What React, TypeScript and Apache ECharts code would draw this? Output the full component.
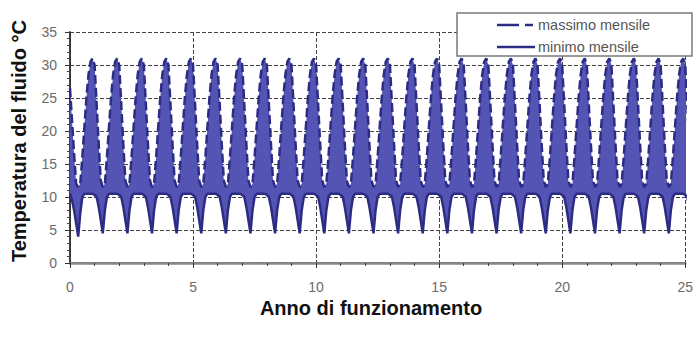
import React, { useEffect, useRef } from "react";
import * as echarts from "echarts";

// Monthly values (°C): first year, then the repeating yearly cycle
const maxFirstYear = [26.5, 21.5, 16.5, 12, 11.5, 12, 16, 20.5, 25, 28.5, 30.5, 31];
const minFirstYear = [10.5, 9.5, 8, 6, 4, 7.5, 10, 10.5, 10.5, 10.5, 10.5, 10.5];
const maxCycle = [30, 24, 18, 12.5, 11.5, 12, 16, 20.5, 25, 28.5, 30.5, 31];
const minCycle = [10.3, 10, 8.5, 6.5, 4.5, 8, 10, 10.5, 10.5, 10.5, 10.5, 10.5];
const yearsShown = 25;
const xTicks = [0, 5, 10, 15, 20, 25];
const yTicks = [0, 5, 10, 15, 20, 25, 30, 35];
const seriesNames = ["massimo mensile", "minimo mensile"];

function buildSeries(first: number[], cycle: number[]): [number, number][] {
  const out: [number, number][] = [];
  for (let y = 0; y < yearsShown; y++) {
    const arr = y === 0 ? first : cycle;
    arr.forEach((v, m) => out.push([y + m / 12, v]));
  }
  // tail beyond the axis end (clipped)
  cycle.slice(0, 3).forEach((v, m) => out.push([yearsShown + m / 12, v]));
  return out;
}

export default function App() {
  const ref = useRef<HTMLDivElement>(null);
  useEffect(() => {
    if (!ref.current) return;
    const chart = echarts.init(ref.current, undefined, { renderer: "svg" });
    const maxData = buildSeries(maxFirstYear, maxCycle);
    const minData = buildSeries(minFirstYear, minCycle);
    const bandData = maxData.map((p, i) => [p[0], p[1], minData[i][1]]);
    const font = "'Liberation Sans', Arial, sans-serif";
    const lineColor = "#2c2c84";
    const fillColor = "#5454b4";
    chart.setOption({
      animation: false,
      backgroundColor: "#ffffff",
      grid: { left: 70, top: 32, width: 618, height: 231, containLabel: false },
      xAxis: [
        {
          type: "value",
          min: 0,
          max: 25,
          interval: 5,
          axisLine: { show: true, lineStyle: { color: "#333", width: 1.5 } },
          axisTick: { show: true, length: 5, lineStyle: { color: "#333" } },
          minorTick: { show: true, splitNumber: 5, length: 3, lineStyle: { color: "#444" } },
          axisLabel: {
            margin: 17,
            fontFamily: font,
            fontSize: 14,
            color: "#6b6b6b",
            showMaxLabel: true,
            formatter: (v: number) => (xTicks.includes(v) ? String(v) : ""),
          },
          splitLine: { show: true, lineStyle: { color: "#444", type: "dashed", width: 1 } },
        },
        {
          type: "value",
          position: "top",
          min: 0,
          max: 25,
          axisLine: { show: true, lineStyle: { color: "#8a8a8a", width: 2.5 } },
          axisTick: { show: false },
          axisLabel: { show: false },
          splitLine: { show: false },
        },
      ],
      yAxis: [
        {
          type: "value",
          min: 0,
          max: 35,
          interval: 5,
          axisLine: { show: true, lineStyle: { color: "#333", width: 1.5 } },
          axisTick: { show: true, length: 5, lineStyle: { color: "#333" } },
          minorTick: { show: true, splitNumber: 5, length: 3, lineStyle: { color: "#444" } },
          axisLabel: {
            margin: 13,
            fontFamily: font,
            fontSize: 14,
            color: "#6b6b6b",
            formatter: (v: number) => (yTicks.includes(v) ? String(v) : ""),
          },
          splitLine: { show: true, lineStyle: { color: "#444", type: "dashed", width: 1 } },
        },
        {
          type: "value",
          position: "right",
          min: 0,
          max: 35,
          axisLine: { show: true, lineStyle: { color: "#333", width: 1.5 } },
          axisTick: { show: false },
          axisLabel: { show: false },
          splitLine: { show: false },
        },
      ],
      graphic: [
        {
          type: "rect",
          z: 10,
          shape: { x: 457, y: 13, width: 235, height: 43 },
          style: { fill: "#ffffff", stroke: "#7a7a7a", lineWidth: 1.5 },
        },
        {
          type: "line",
          z: 11,
          shape: { x1: 497, y1: 25, x2: 535, y2: 25 },
          style: { stroke: lineColor, lineWidth: 2.5, lineDash: [22, 6, 8, 2] },
        },
        {
          type: "line",
          z: 11,
          shape: { x1: 497, y1: 47, x2: 535, y2: 47 },
          style: { stroke: lineColor, lineWidth: 2.5 },
        },
        {
          type: "text",
          z: 11,
          x: 538,
          y: 25,
          style: {
            text: seriesNames[0],
            fontFamily: font,
            fontSize: 14.5,
            fill: "#555",
            align: "left",
            verticalAlign: "middle",
          },
        },
        {
          type: "text",
          z: 11,
          x: 538,
          y: 47,
          style: {
            text: seriesNames[1],
            fontFamily: font,
            fontSize: 14.5,
            fill: "#555",
            align: "left",
            verticalAlign: "middle",
          },
        },
        {
          type: "text",
          x: 19,
          y: 141,
          rotation: Math.PI / 2,
          style: {
            text: "Temperatura del fluido °C",
            fontFamily: font,
            fontSize: 20,
            fontWeight: "bold",
            fill: "#111",
            align: "center",
            verticalAlign: "middle",
          },
        },
        {
          type: "text",
          x: 371,
          y: 308,
          style: {
            text: "Anno di funzionamento",
            fontFamily: font,
            fontSize: 20,
            fontWeight: "bold",
            fill: "#111",
            align: "center",
            verticalAlign: "middle",
          },
        },
      ],
      series: [
        {
          name: "band",
          type: "custom",
          clip: true,
          silent: true,
          z: 1,
          data: bandData,
          encode: { x: 0, y: [1, 2] },
          renderItem: (params: any, api: any) => {
            if (params.dataIndex !== 0) return null;
            const upper = bandData.map((d) => api.coord([d[0], d[1]]));
            const lower = bandData.map((d) => api.coord([d[0], d[2]])).reverse();
            return {
              type: "polygon",
              shape: { points: upper.concat(lower) },
              style: { fill: fillColor, stroke: "none" },
            };
          },
        },
        {
          name: seriesNames[0],
          type: "line",
          data: maxData,
          symbol: "none",
          z: 2,
          color: lineColor,
          lineStyle: { color: lineColor, width: 2.5, type: [9, 4] },
        },
        {
          name: seriesNames[1],
          type: "line",
          data: minData,
          symbol: "none",
          z: 2,
          color: lineColor,
          lineStyle: { color: lineColor, width: 2.5 },
        },
      ],
    });
    return () => chart.dispose();
  }, []);
  return (
    <div
      ref={ref}
      style={{ position: "fixed", left: 0, top: 0, width: 696, height: 344, background: "#fff" }}
    />
  );
}
